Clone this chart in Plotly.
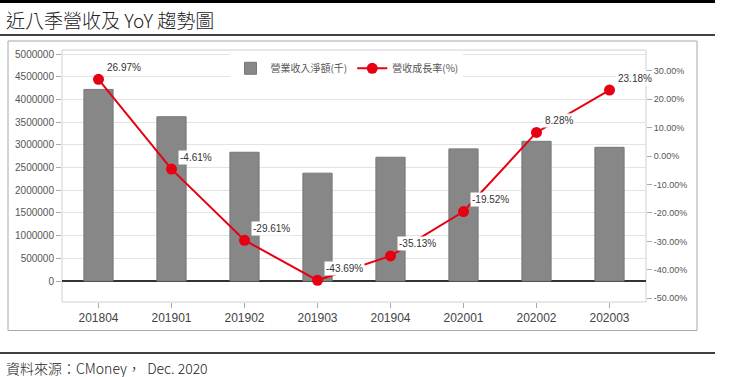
import plotly.graph_objects as go

categories = ["201804", "201901", "201902", "201903", "201904", "202001", "202002", "202003"]
revenue = [4220000, 3618000, 2836000, 2375000, 2726000, 2910000, 3077000, 2945000]
growth = [26.97, -4.61, -29.61, -43.69, -35.13, -19.52, 8.28, 23.18]
left_ticks = list(range(0, 5000001, 500000))
right_ticks = list(range(-50, 31, 10))

W, H = 736, 377
L, R, T, B = 62, 646, 50, 302

def px(x):
    return (x - L) / (R - L)

def py(y):
    return (B - y) / (B - T)

fig = go.Figure()
fig.add_trace(go.Bar(
    x=categories, y=revenue, name="營業收入淨額(千)",
    marker=dict(color="#878787", line=dict(color="#777777", width=1)),
    yaxis="y",
))
fig.add_trace(go.Scatter(
    x=categories, y=growth, name="營收成長率(%)", mode="lines+markers",
    line=dict(color="#e60012", width=2),
    marker=dict(color="#e60012", size=11),
    yaxis="y2",
))

for i, g in enumerate(growth):
    fig.add_annotation(
        x=i, y=g, xref="x", yref="y2", text=f"{g:.2f}%",
        showarrow=False, xanchor="left", yanchor="middle",
        xshift=6, yshift=12, bgcolor="white", borderpad=1,
        font=dict(family="Liberation Sans, Arial", size=10, color="#333333"),
    )

shapes = [
    dict(type="rect", xref="paper", yref="paper", x0=px(0), x1=px(715), y0=py(3), y1=py(0),
         fillcolor="black", line=dict(width=0), layer="above"),
    dict(type="line", xref="paper", yref="paper", x0=px(0), x1=px(715), y0=py(35), y1=py(35),
         line=dict(color="black", width=1.5)),
    dict(type="line", xref="paper", yref="paper", x0=px(0), x1=px(715), y0=py(353), y1=py(353),
         line=dict(color="black", width=1.5)),
    dict(type="rect", xref="paper", yref="paper", x0=px(8), x1=px(697), y0=py(330.5), y1=py(41),
         line=dict(color="#a8a8a8", width=1), fillcolor="rgba(0,0,0,0)", layer="below"),
    dict(type="rect", xref="paper", yref="paper", x0=0, x1=1, y0=0, y1=1,
         line=dict(color="#d0d0d0", width=1), fillcolor="rgba(0,0,0,0)", layer="below"),
]

fig.add_annotation(xref="paper", yref="paper", x=px(4), y=py(20), text="近八季營收及 YoY 趨勢圖",
                   showarrow=False, xanchor="left", yanchor="middle",
                   font=dict(family="Noto Sans CJK TC", size=19, color="#222222", weight=300))
fig.add_annotation(xref="paper", yref="paper", x=px(4), y=py(368),
                   text="資料來源：CMoney，\u00a0\u00a0Dec. 2020",
                   showarrow=False, xanchor="left", yanchor="middle",
                   font=dict(family="Noto Sans CJK TC", size=14, color="#222222", weight=300))

y_top = (281 - T) / 45.4 * 1e6
y_bot = -(B - 281) / 45.4 * 1e6
y2_top = (156 - T) / 2.845
y2_bot = -(B - 156) / 2.845

fig.update_layout(
    width=W, height=H,
    margin=dict(l=L, r=W - R, t=T, b=H - B, pad=0),
    paper_bgcolor="white", plot_bgcolor="white",
    bargap=0.6,
    shapes=shapes,
    font=dict(family="Liberation Sans, Arial", color="#555555", size=10),
    legend=dict(orientation="h", x=0.488, xanchor="center", y=0.985, yanchor="top",
                bgcolor="white", font=dict(family="Noto Sans CJK TC", size=10, color="#555555"),
                itemwidth=30, tracegroupgap=0),
    xaxis=dict(type="category", range=[-0.5, 7.5], autorange=False, showgrid=False,
               ticks="outside", ticklen=5, tickcolor="#aaaaaa",
               tickfont=dict(size=12, color="#444444"), showline=False, zeroline=False),
    yaxis=dict(range=[y_bot, y_top], autorange=False, tickvals=left_ticks,
               ticktext=[str(v) for v in left_ticks],
               showgrid=True, gridcolor="#e3e3e3", gridwidth=1,
               zeroline=True, zerolinecolor="#333333", zerolinewidth=1.5,
               ticks="outside", ticklen=5, tickcolor="#aaaaaa",
               tickfont=dict(size=10, color="#555555")),
    yaxis2=dict(range=[y2_bot, y2_top], autorange=False, overlaying="y", side="right",
                tickvals=right_ticks,
                ticktext=[f"{v:.2f}%" for v in right_ticks], showgrid=False, zeroline=False,
                ticks="outside", ticklen=5, tickcolor="#aaaaaa",
                tickfont=dict(size=9, color="#555555")),
)

fig.write_html("out.html", config={"displayModeBar": False},
               post_script="document.body.style.margin='0';")
